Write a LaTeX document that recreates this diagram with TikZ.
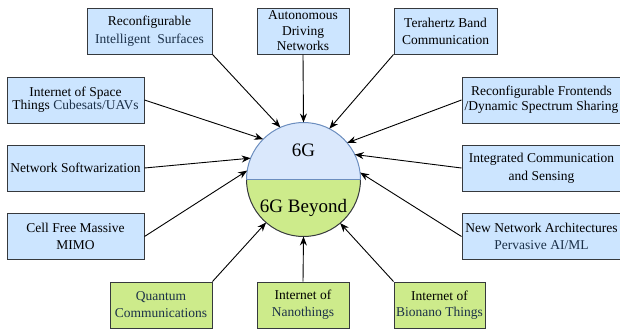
\documentclass[tikz,border=0pt]{standalone}
\usepackage{fontspec}
\setmainfont{Liberation Serif}
\newfontfamily\diagfont{Liberation Serif}
\usetikzlibrary{arrows.meta,positioning}
\definecolor{boxblue}{HTML}{CCE5FF}
\definecolor{boxgreen}{HTML}{CDEB8B}
\definecolor{boxline}{HTML}{36393D}
\definecolor{halfblue}{HTML}{DAE8FC}
\definecolor{halfline}{HTML}{6C8EBF}
\definecolor{navytext}{HTML}{1B3048}
\tikzset{
  techbox/.style={draw=boxline, line width=1pt, fill=boxblue, align=center, inner sep=0pt,
    minimum height=46pt, font=\diagfont\fontsize{13.5}{17}\selectfont},
  beyondbox/.style={techbox, fill=boxgreen},
  feed/.style={-{Stealth[length=9pt,width=7pt]}, line width=0.9pt},
}

\begin{document}
\begin{tikzpicture}[x=1pt, y=-1pt]
\useasboundingbox (0,0) rectangle (620,330);
% centre circle, two halves
\node[circle, minimum size=114pt, inner sep=0pt, outer sep=0pt] (g6) at (303.5,179.5) {};
\fill[halfblue] (g6.west) arc[start angle=180, end angle=0, radius=57pt] -- cycle;
\fill[boxgreen] (g6.west) arc[start angle=180, end angle=360, radius=57pt] -- cycle;
\draw[boxline, line width=1pt] (g6.west) arc[start angle=180, end angle=360, radius=57pt];
\draw[halfline, line width=1pt] (g6.west) arc[start angle=180, end angle=0, radius=57pt];
\draw[halfline, line width=1pt] (g6.west) -- (g6.east);
\node[font=\diagfont\fontsize{19}{22}\selectfont, anchor=base] (g6now) at (303.5,156) {6G};
\node[font=\diagfont\fontsize{19}{22}\selectfont, anchor=base] (g6next) at (303.5,212.5) {6G Beyond};

% top row
\node[techbox, minimum width=125pt, font=\diagfont\fontsize{13.5}{18.5}\selectfont] (ris) at (149.5,31)
  {Reconfigurable\\\textcolor{navytext}{Intelligent\ \ Surfaces}};
\node[techbox, minimum width=92pt, font=\diagfont\fontsize{13.5}{15.5}\selectfont] (adn) at (303,31)
  {Autonomous\\Driving\\Networks};
\node[techbox, minimum width=103pt] (thz) at (445.5,31) {Terahertz Band\\Communication};

% left column
\node[techbox, minimum width=137pt, font=\diagfont\fontsize{13.5}{13}\selectfont] (iost) at (75.5,100)
  {Internet of Space\\Things \textcolor{navytext}{Cubesats/UAVs}};
\node[techbox, minimum width=137pt] (nsw) at (75.5,168) {Network Softwarization};
\node[techbox, minimum width=137pt, font=\diagfont\fontsize{13.5}{16.5}\selectfont] (cfm) at (75.5,236.5)
  {Cell Free Massive\\MIMO};

% right column
\node[techbox, minimum width=159pt, font=\diagfont\fontsize{13.5}{15}\selectfont] (rfe) at (541.5,100)
  {Reconfigurable Frontends\\/Dynamic Spectrum Sharing};
\node[techbox, minimum width=159pt, font=\diagfont\fontsize{13.5}{18}\selectfont] (ics) at (541.5,168)
  {Integrated Communication\\and Sensing};
\node[techbox, minimum width=159pt] (nna) at (541.5,236.5)
  {New Network Architectures\\\textcolor{navytext}{Pervasive AI/ML}};

% bottom row (beyond 6G)
\node[beyondbox, minimum width=102pt, text=navytext] (qc) at (161,305) {Quantum\\Communications};
\node[beyondbox, minimum width=92pt] (iont) at (303,305) {Internet of\\\textcolor{navytext}{Nanothings}};
\node[beyondbox, minimum width=91pt, font=\diagfont\fontsize{13.5}{16}\selectfont] (iobnt) at (439.5,305)
  {Internet of\\\textcolor{navytext}{Bionano Things}};

\draw[feed] (ris.south east) -- (g6.114);
\draw[feed] (adn.south) -- (g6.90);
\draw[feed] (thz.south west) -- (g6.63);
\draw[feed] (iost.east) -- (g6.135);
\draw[feed] (nsw.east) -- (g6.158);
\draw[feed] (cfm.east) -- (g6.171);
\draw[feed] (rfe.west) -- (g6.40);
\draw[feed] (ics.west) -- (g6.26);
\draw[feed] (nna.west) -- (g6.7);
\draw[feed] (qc.north east) -- (g6.229);
\draw[feed] (iont.north) -- (g6.270);
\draw[feed] (iobnt.north west) -- (g6.310);
\end{tikzpicture}
\end{document}
